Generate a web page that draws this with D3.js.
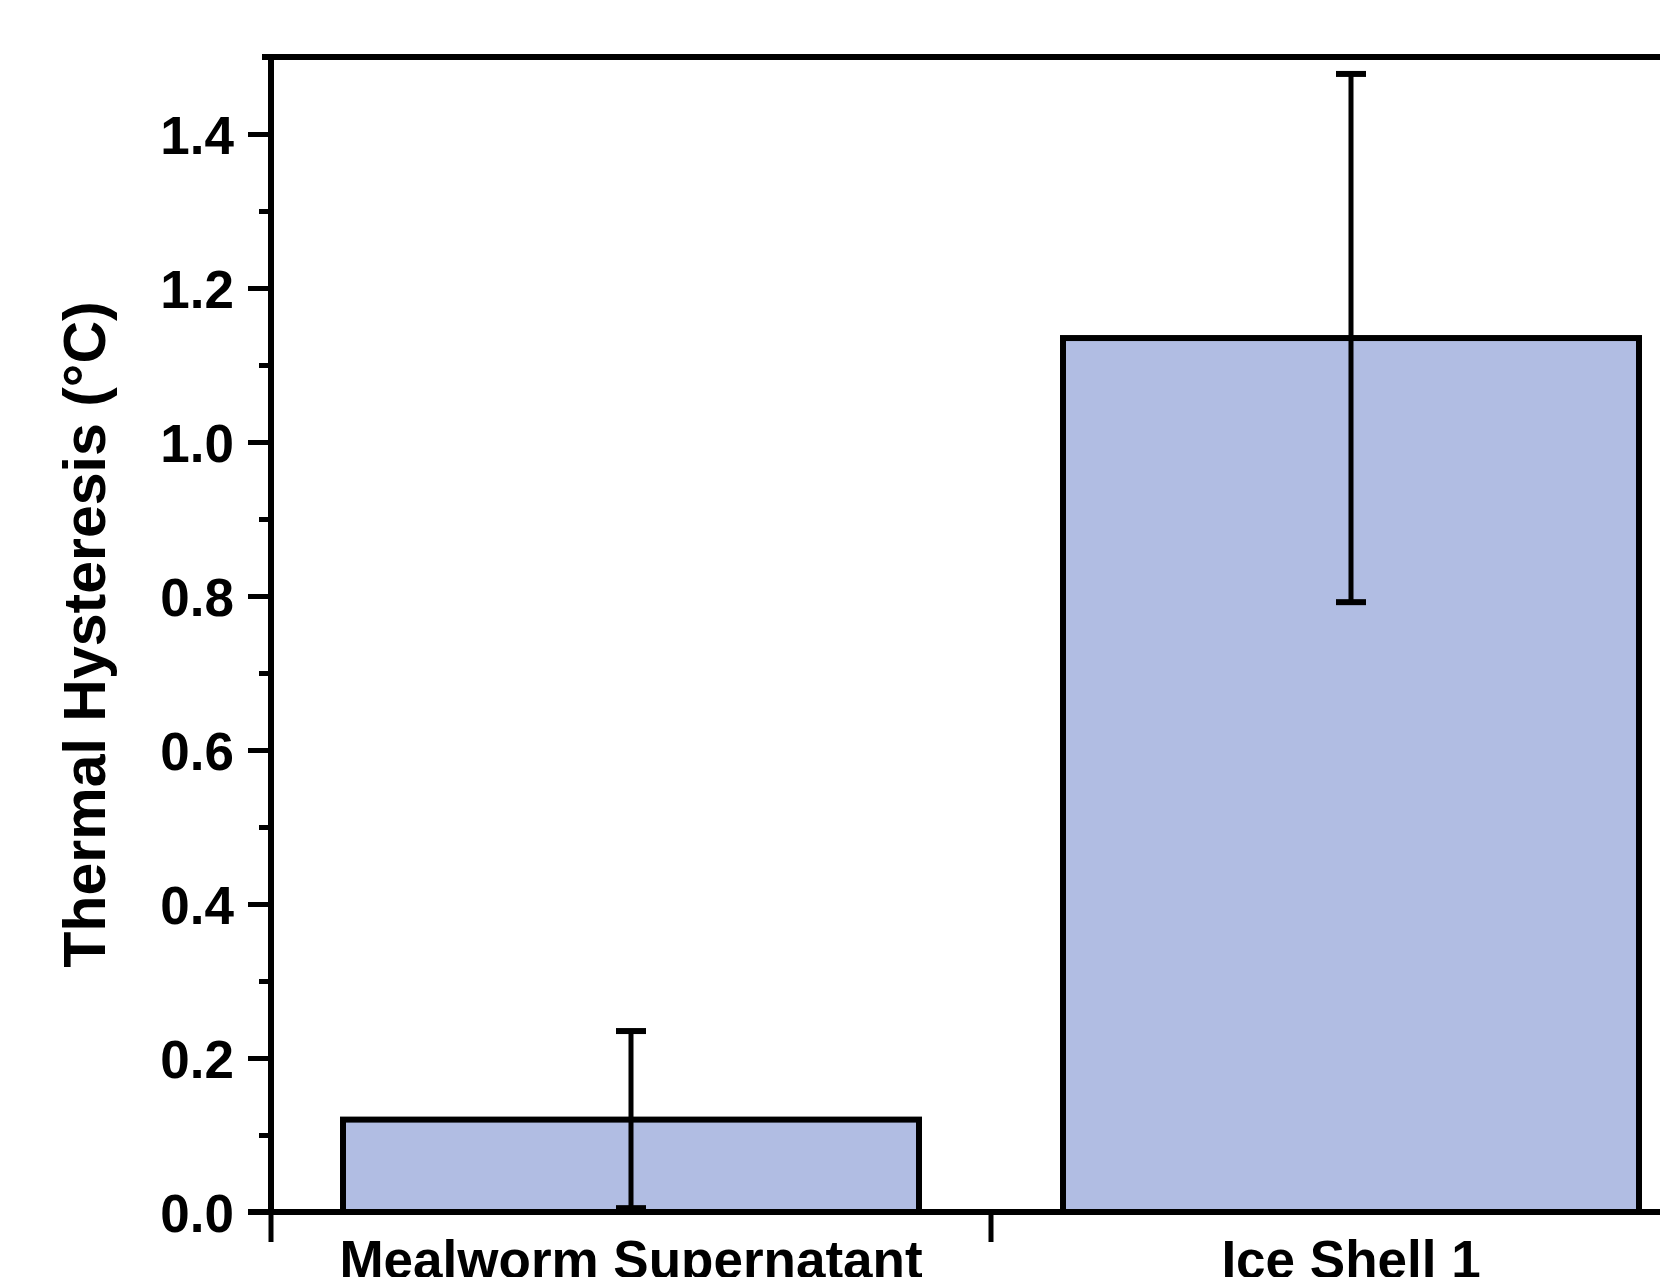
<!DOCTYPE html>
<html>
<head>
<meta charset="utf-8">
<script src="https://cdn.jsdelivr.net/npm/d3@7"></script>
<style>
  body { margin: 0; background: #fff; }
  svg text { font-family: "Liberation Sans", Arial, sans-serif; font-weight: bold; fill: #000; }
</style>
</head>
<body>
<svg id="chart"></svg>
<script>
const categories = ['Mealworm Supernatant', 'Ice Shell 1'];
const means = [0.12, 1.135];
const errors = [0.115, 0.343];
const majorTicks = [0, 0.2, 0.4, 0.6, 0.8, 1.0, 1.2, 1.4];
const minorTicks = [0.1, 0.3, 0.5, 0.7, 0.9, 1.1, 1.3];
const yLabel = 'Thermal Hysteresis (°C)';

const width = 1660, height = 1277;
const plot = { left: 271, right: 1711, top: 57, bottom: 1212 };

const svg = d3.select('svg#chart')
  .attr('width', width)
  .attr('height', height);

const x = d3.scaleBand()
  .domain(categories)
  .range([plot.left, plot.right])
  .paddingInner(0.2)
  .paddingOuter(0.1);

const y = d3.scaleLinear()
  .domain([0, 1.5])
  .range([plot.bottom, plot.top]);

const data = categories.map((c, i) => ({ cat: c, mean: means[i], err: errors[i] }));

// bars
svg.selectAll('rect.bar')
  .data(data).enter().append('rect')
  .attr('class', 'bar')
  .attr('x', d => x(d.cat))
  .attr('y', d => y(d.mean))
  .attr('width', x.bandwidth())
  .attr('height', d => y(0) - y(d.mean))
  .attr('fill', '#b1bde3')
  .attr('stroke', '#000')
  .attr('stroke-width', 6);

// error bars
const capW = 30;
const eb = svg.selectAll('g.err')
  .data(data).enter().append('g')
  .attr('class', 'err')
  .attr('transform', d => 'translate(' + (x(d.cat) + x.bandwidth() / 2) + ',0)');
eb.append('line')
  .attr('y1', d => y(d.mean - d.err))
  .attr('y2', d => y(d.mean + d.err))
  .attr('stroke', '#000')
  .attr('stroke-width', 5);
eb.selectAll('line.cap')
  .data(d => [d.mean - d.err, d.mean + d.err]).enter().append('line')
  .attr('class', 'cap')
  .attr('x1', -capW / 2)
  .attr('x2', capW / 2)
  .attr('y1', v => y(v))
  .attr('y2', v => y(v))
  .attr('stroke', '#000')
  .attr('stroke-width', 6);

// y axis: major + minor ticks
svg.append('g')
  .attr('transform', 'translate(' + plot.left + ',0)')
  .call(d3.axisLeft(y).tickValues(minorTicks).tickSize(12).tickSizeOuter(0).tickFormat(''))
  .call(g => g.select('.domain').remove())
  .call(g => g.selectAll('line').attr('stroke', '#000').attr('stroke-width', 5));

const yAxis = svg.append('g')
  .attr('transform', 'translate(' + plot.left + ',0)')
  .call(d3.axisLeft(y).tickValues(majorTicks).tickSize(23).tickSizeOuter(0)
    .tickPadding(14).tickFormat(d3.format('.1f')));
yAxis.select('.domain').remove();
yAxis.selectAll('line').attr('stroke', '#000').attr('stroke-width', 5);
yAxis.selectAll('text').attr('font-size', 53).attr('dy', '0.36em');

// x axis labels
const xAxis = svg.append('g')
  .attr('transform', 'translate(0,' + plot.bottom + ')')
  .call(d3.axisBottom(x).tickSize(0).tickPadding(28));
xAxis.select('.domain').remove();
xAxis.selectAll('text').attr('font-size', 53);

// category boundary ticks
const gap = (x.step() - x.bandwidth()) / 2;
const bounds = [plot.left].concat(categories.map(c => x(c) + x.bandwidth() + gap));
svg.selectAll('line.xtick')
  .data(bounds).enter().append('line')
  .attr('class', 'xtick')
  .attr('x1', d => d).attr('x2', d => d)
  .attr('y1', plot.bottom).attr('y2', plot.bottom + 30)
  .attr('stroke', '#000')
  .attr('stroke-width', 5);

// frame lines
svg.append('line')
  .attr('x1', plot.left).attr('x2', plot.left)
  .attr('y1', plot.top - 3).attr('y2', plot.bottom + 3)
  .attr('stroke', '#000').attr('stroke-width', 6);
svg.append('line')
  .attr('x1', plot.left - 23).attr('x2', plot.right)
  .attr('y1', plot.bottom).attr('y2', plot.bottom)
  .attr('stroke', '#000').attr('stroke-width', 6);
svg.append('line')
  .attr('x1', plot.left - 9).attr('x2', plot.right)
  .attr('y1', plot.top).attr('y2', plot.top)
  .attr('stroke', '#000').attr('stroke-width', 6);

// y axis title
svg.append('text')
  .attr('transform', 'translate(105,' + ((plot.top + plot.bottom) / 2) + ') rotate(-90)')
  .attr('text-anchor', 'middle')
  .attr('font-size', 59)
  .text(yLabel);
</script>
</body>
</html>
